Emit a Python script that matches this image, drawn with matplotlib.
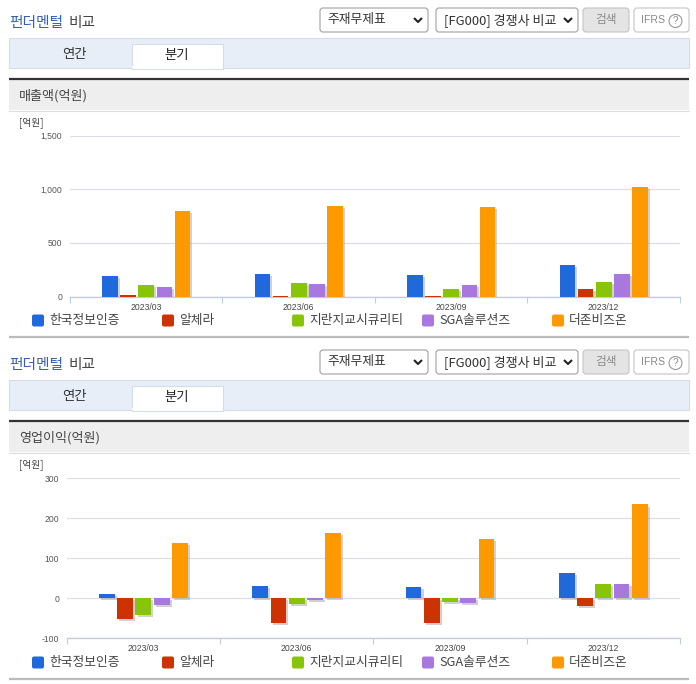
import matplotlib
matplotlib.use("Agg")
import matplotlib.pyplot as plt
import matplotlib.patheffects as pe
from matplotlib.patches import Rectangle, FancyBboxPatch, Circle
import numpy as np

plt.rcParams['font.family'] = ['Noto Sans CJK KR', 'DejaVu Sans']

quarters = ['2023/03', '2023/06', '2023/09', '2023/12']
companies = ['한국정보인증', '알체라', '지란지교시큐리티', 'SGA솔루션즈', '더존비즈온']
colors = ['#1f69dc', '#cc3300', '#88c408', '#a878de', '#ff9900']

revenue_a = [193, 211, 205, 295]
revenue_b = [20, 3, 3, 72]
revenue_c = [109, 127, 72, 137]
revenue_d = [93, 118, 109, 211]
revenue_e = [800, 847, 837, 1023]

profit_a = [11, 31, 28, 63]
profit_b = [-52, -62, -62, -19]
profit_c = [-42, -15, -9, 36]
profit_d = [-17, -5, -11, 36]
profit_e = [138, 163, 149, 234]

W, H = 696, 684
fig = plt.figure(figsize=(W / 100, H / 100), dpi=100, facecolor='white')
ui = fig.add_axes([0, 0, 1, 1], zorder=0)
ui.set_xlim(0, W); ui.set_ylim(H, 0); ui.axis('off')


def box(x0, y0, x1, y1, fc, ec, r=3, lw=0.8):
    ui.add_patch(FancyBboxPatch((x0 + r, y0 + r), x1 - x0 - 2 * r, y1 - y0 - 2 * r,
                                boxstyle=f'round,pad={r},rounding_size={r}',
                                fc=fc, ec=ec, lw=lw, mutation_aspect=1))


def chevron(cx, cy):
    ui.plot([cx - 4, cx, cx + 4], [cy - 2, cy + 2, cy - 2], color='#222', lw=1.5,
            solid_capstyle='butt')


def chrome(dy, section):
    ui.text(9, 23 + dy, '펀더멘털', color='#3a5fb0', fontsize=10.6, va='center', ha='left', fontweight='medium')
    ui.text(69, 23 + dy, '비교', color='#444444', fontsize=10.6, va='center', ha='left', fontweight='medium')
    box(320, 8 + dy, 428, 32 + dy, 'white', '#a0a0a0')
    ui.text(327, 20 + dy, '주재무제표', color='#333', fontsize=9.2, va='center')
    chevron(418, 20 + dy)
    box(436, 8 + dy, 578, 32 + dy, 'white', '#a0a0a0')
    ui.text(444, 20 + dy, '[FG000] 경쟁사 비교', color='#333', fontsize=9.4, va='center')
    chevron(568, 20 + dy)
    box(583, 8 + dy, 629, 32 + dy, '#e4e4e4', '#c4c4c4')
    ui.text(606, 20 + dy, '검색', color='#8a8a8a', fontsize=8.4, va='center', ha='center')
    box(634, 8 + dy, 689, 32 + dy, 'white', '#c4c4c4')
    ui.text(641, 20 + dy, 'IFRS', color='#888', fontsize=7.6, va='center', family='Liberation Sans')
    ui.add_patch(Circle((675.5, 21 + dy), 6.5, fc='white', ec='#999', lw=0.8))
    ui.text(675.5, 21 + dy, '?', color='#888', fontsize=7, va='center', ha='center', family='Liberation Sans')

    ui.add_patch(Rectangle((9, 38 + dy), 680, 30, fc='#e8eef8', ec='#d6dce6', lw=0.8))
    ui.add_patch(Rectangle((131.5, 43.5 + dy), 91, 25, fc='white', ec='#d6dce6', lw=0.8))
    ui.add_patch(Rectangle((132, 66 + dy), 90, 2, fc='white', ec='none'))
    ui.text(74, 54 + dy, '연간', color='#333', fontsize=9.6, va='center', ha='center')
    ui.text(177, 54.5 + dy, '분기', color='#222', fontsize=9.6, va='center', ha='center')

    ui.add_patch(Rectangle((9, 80 + dy), 680, 30, fc='#eeeeee', ec='none'))
    ui.plot([9, 689], [110.5 + dy] * 2, color='#dddddd', lw=0.8)
    ui.plot([9, 689], [79 + dy] * 2, color='#333333', lw=1.6, solid_capstyle='butt')
    ui.plot([9, 689], [337 + dy] * 2, color='#bbbbbb', lw=1.6, solid_capstyle='butt')
    ui.text(19, 95.5 + dy, section, color='#444', fontsize=9.4, va='center')
    ui.text(19, 122.5 + dy, '[억원]', color='#444', fontsize=7, va='center')

    for name, col, x in zip(companies, colors, [32, 162, 292, 422, 552]):
        box(x, 314.5 + dy, x + 12, 326.5 + dy, col, col, r=2, lw=0)
        ui.text(x + 17, 320.5 + dy, name, color='#444', fontsize=9.2, va='center')


def chart(series, left, right, top, bottom, ymin, ymax, yticks, labels):
    ax = fig.add_axes([left / W, 1 - bottom / H, (right - left) / W, (bottom - top) / H], zorder=2)
    ax.patch.set_alpha(0)
    ax.set_xlim(0, len(quarters)); ax.set_ylim(ymin, ymax)
    for s in ['top', 'right', 'left']:
        ax.spines[s].set_visible(False)
    ax.spines['bottom'].set_color('#c3cedd'); ax.spines['bottom'].set_linewidth(1)
    ax.set_yticks(yticks, labels)
    ax.tick_params(axis='y', length=0, pad=5.5, labelsize=6.2, labelcolor='#555')
    for lb in ax.get_yticklabels():
        lb.set_family('Liberation Sans')
    ax.set_xticks(range(len(quarters) + 1), [''] * (len(quarters) + 1))
    ax.tick_params(axis='x', length=4, width=0.8, color='#c3cedd')
    ax.grid(axis='y', color='#dcdfe6', lw=0.9)
    ax.set_axisbelow(True)
    step, bw = 0.119, 0.103
    for i, (vals, col) in enumerate(zip(series, colors)):
        pos = np.arange(len(quarters)) + 0.5 + (i - 2) * step
        ax.bar(pos, vals, width=bw, color=col, zorder=3,
               path_effects=[pe.SimplePatchShadow(offset=(1.5, -1.5), shadow_rgbFace='#999999', alpha=0.45), pe.Normal()])
    for i, q in enumerate(quarters):
        ax.annotate(q, (i + 0.5, ymin), xytext=(0, -7.5), textcoords='offset points',
                    ha='center', va='center', fontsize=6.2, color='#444', family='Liberation Sans')
    return ax


chrome(0, '매출액(억원)')
chrome(342, '영업이익(억원)')

chart([revenue_a, revenue_b, revenue_c, revenue_d, revenue_e], 70, 680, 135.5, 296.7, 0, 1500,
      [0, 500, 1000, 1500], ['0', '500', '1,000', '1,500'])
chart([profit_a, profit_b, profit_c, profit_d, profit_e], 66.7, 680, 478, 638.3, -100, 300,
      [-100, 0, 100, 200, 300], ['-100', '0', '100', '200', '300'])

fig.savefig('out.png', dpi=100)
